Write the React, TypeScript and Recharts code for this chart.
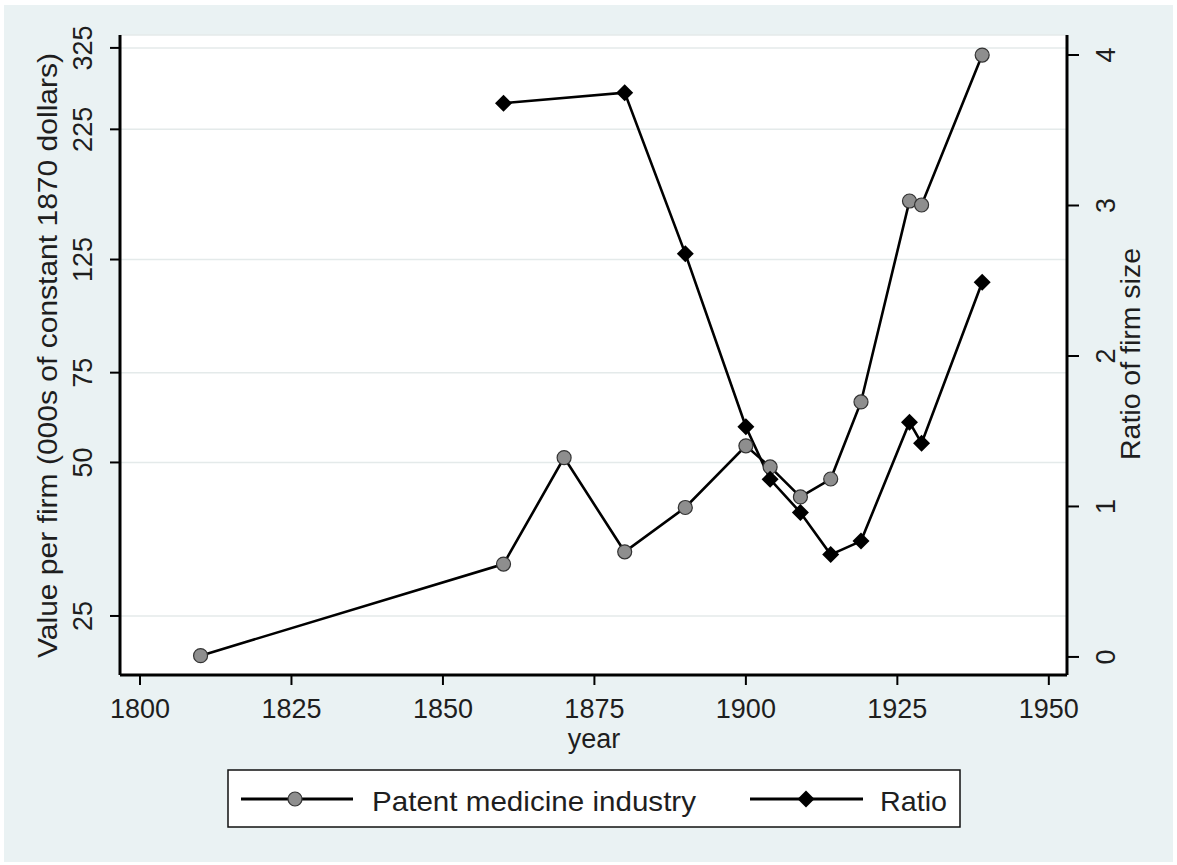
import { LineChart, Line, XAxis, YAxis, CartesianGrid, Label } from "recharts";

const YEARS = [1810, 1860, 1870, 1880, 1890, 1900, 1904, 1909, 1914, 1919, 1927, 1929, 1939];
const PATENT_VALUE = [20.9, 31.6, 51.1, 33.4, 40.8, 53.9, 49.0, 42.8, 46.4, 65.7, 162.8, 159.9, 314.7];
const RATIO: (number | null)[] = [null, 3.68, null, 3.75, 2.68, 1.53, 1.18, 0.96, 0.68, 0.77, 1.56, 1.42, 2.49];

const YEAR_TICKS = [1800, 1825, 1850, 1875, 1900, 1925, 1950];
const VALUE_TICKS = [25, 50, 75, 125, 225, 325];
const RATIO_TICKS = [0, 1, 2, 3, 4];

const FONT = "'Liberation Sans', Arial, sans-serif";
const TEXT = "#1e1e1e";
const BG = "#eaf2f3";
const GRAY_DOT = "#8e8e8e";

const rows = YEARS.map((year, i) => ({
  year,
  value: PATENT_VALUE[i],
  ratio: RATIO[i],
}));

function circleDot(props: any) {
  const { cx, cy, index } = props;
  if (cx == null || cy == null) return <g key={`c-${index}`} />;
  return <circle key={`c-${index}`} cx={cx} cy={cy} r={7} fill={GRAY_DOT} stroke="#333" strokeWidth={1.2} />;
}

function diamondPath(cx: number, cy: number, r: number) {
  return `M${cx},${cy - r} L${cx + r},${cy} L${cx},${cy + r} L${cx - r},${cy} Z`;
}

function diamondDot(props: any) {
  const { cx, cy, index } = props;
  if (cx == null || cy == null) return <g key={`d-${index}`} />;
  return <path key={`d-${index}`} d={diamondPath(cx, cy, 8.5)} fill="#000" />;
}

function XTick(props: any) {
  const { x, payload } = props;
  return (
    <text x={x} y={718} textAnchor="middle" fontSize={27} fill={TEXT} fontFamily={FONT}>
      {payload.value}
    </text>
  );
}

function LeftTick(props: any) {
  const { y, payload } = props;
  return (
    <text x={92} y={y} transform={`rotate(-90 92 ${y})`} textAnchor="middle" fontSize={27} fill={TEXT} fontFamily={FONT}>
      {payload.value}
    </text>
  );
}

function RightTick(props: any) {
  const { y, payload } = props;
  return (
    <text x={1115} y={y} transform={`rotate(-90 1115 ${y})`} textAnchor="middle" fontSize={27} fill={TEXT} fontFamily={FONT}>
      {payload.value}
    </text>
  );
}

function LegendBox() {
  return (
    <svg width={1177} height={865} style={{ position: "absolute", left: 0, top: 0, pointerEvents: "none" }}>
      <rect x={228} y={770} width={732} height={57} fill="#fff" stroke="#111" strokeWidth={1.5} />
      <line x1={241} y1={799} x2={353} y2={799} stroke="#000" strokeWidth={3} />
      <circle cx={295} cy={799} r={7} fill={GRAY_DOT} stroke="#333" strokeWidth={1.2} />
      <text x={372} y={811} fontSize={28} fill={TEXT} fontFamily={FONT} textLength={324} lengthAdjust="spacingAndGlyphs">
        Patent medicine industry
      </text>
      <line x1={750} y1={799} x2={863} y2={799} stroke="#000" strokeWidth={3} />
      <path d={diamondPath(806, 799, 8.5)} fill="#000" />
      <text x={880} y={811} fontSize={28} fill={TEXT} fontFamily={FONT} textLength={67} lengthAdjust="spacingAndGlyphs">
        Ratio
      </text>
    </svg>
  );
}

export default function App() {
  return (
    <div style={{ position: "absolute", left: 0, top: 0, width: 1177, height: 865, background: "#fff", overflow: "hidden" }}>
      <div style={{ position: "absolute", left: 4, top: 5, width: 1169, height: 857, background: BG }} />
      <div style={{ position: "absolute", left: 0, top: 0 }}>
        <LineChart width={1177} height={865} data={rows} margin={{ top: 35, right: 20, bottom: 130, left: 20 }}>
          <CartesianGrid yAxisId="left" vertical={false} stroke="#e4eaea" strokeWidth={1.5} fill="#ffffff" />
          <XAxis
            dataKey="year"
            type="number"
            domain={[1796.7, 1953]}
            ticks={YEAR_TICKS}
            allowDataOverflow
            height={60}
            axisLine={{ stroke: "#000", strokeWidth: 3 }}
            tickLine={{ stroke: "#000", strokeWidth: 2 }}
            tickSize={10}
            tick={XTick}
          >
            <Label
              content={() => (
                <text x={594} y={748} textAnchor="middle" fontSize={27} fill={TEXT} fontFamily={FONT}>
                  year
                </text>
              )}
            />
          </XAxis>
          <YAxis
            yAxisId="left"
            scale="log"
            domain={[19.15, 344.5]}
            ticks={VALUE_TICKS}
            allowDataOverflow
            width={100}
            axisLine={{ stroke: "#000", strokeWidth: 3 }}
            tickLine={{ stroke: "#000", strokeWidth: 2 }}
            tickSize={10}
            tick={LeftTick}
          >
            <Label
              content={() => (
                <text
                  x={57}
                  y={355.5}
                  transform="rotate(-90 57 355.5)"
                  textAnchor="middle"
                  fontSize={27}
                  fill={TEXT}
                  fontFamily={FONT}
                  textLength={605}
                  lengthAdjust="spacingAndGlyphs"
                >
                  Value per firm (000s of constant 1870 dollars)
                </text>
              )}
            />
          </YAxis>
          <YAxis
            yAxisId="right"
            orientation="right"
            domain={[-0.12, 4.133]}
            ticks={RATIO_TICKS}
            allowDataOverflow
            width={90}
            axisLine={{ stroke: "#000", strokeWidth: 3 }}
            tickLine={{ stroke: "#000", strokeWidth: 2 }}
            tickSize={12}
            tick={RightTick}
          >
            <Label
              content={() => (
                <text
                  x={1140}
                  y={354}
                  transform="rotate(-90 1140 354)"
                  textAnchor="middle"
                  fontSize={27}
                  fill={TEXT}
                  fontFamily={FONT}
                  textLength={212}
                  lengthAdjust="spacingAndGlyphs"
                >
                  Ratio of firm size
                </text>
              )}
            />
          </YAxis>
          <Line
            yAxisId="left"
            dataKey="value"
            type="linear"
            stroke="#000"
            strokeWidth={2.6}
            dot={circleDot}
            activeDot={false}
            isAnimationActive={false}
          />
          <Line
            yAxisId="right"
            dataKey="ratio"
            type="linear"
            stroke="#000"
            strokeWidth={2.6}
            dot={diamondDot}
            activeDot={false}
            connectNulls
            isAnimationActive={false}
          />
        </LineChart>
      </div>
      <LegendBox />
    </div>
  );
}
